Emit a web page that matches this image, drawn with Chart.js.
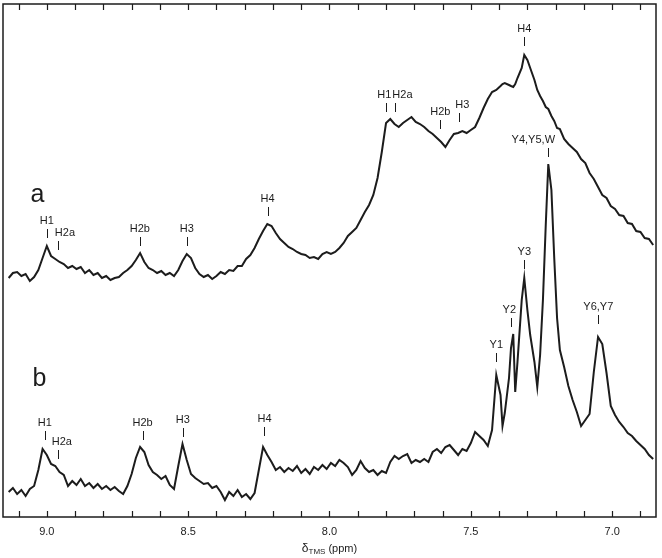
<!DOCTYPE html>
<html>
<head>
<meta charset="utf-8">
<script src="https://cdn.jsdelivr.net/npm/chart.js@4.4.1/dist/chart.umd.min.js"></script>
<style>
html, body { margin: 0; padding: 0; background: #fff; }
#wrap { width: 662px; height: 558px; position: relative; }
</style>
</head>
<body>
<div id="wrap"><canvas id="nmrChart"></canvas></div>
<script>
// chemical shift (ppm), shared by both traces
let ppm = [
9.135, 9.120, 9.105, 9.090, 9.075, 9.060, 9.045, 9.030, 9.015, 9.000,
8.985, 8.970, 8.955, 8.940, 8.925, 8.910, 8.895, 8.880, 8.865, 8.850,
8.835, 8.820, 8.805, 8.790, 8.775, 8.760, 8.745, 8.730, 8.715, 8.700,
8.685, 8.670, 8.655, 8.640, 8.625, 8.610, 8.595, 8.580, 8.565, 8.550,
8.535, 8.520, 8.505, 8.490, 8.475, 8.460, 8.445, 8.430, 8.415, 8.400,
8.385, 8.370, 8.355, 8.340, 8.325, 8.310, 8.295, 8.280, 8.265, 8.250,
8.235, 8.220, 8.205, 8.190, 8.175, 8.160, 8.145, 8.130, 8.115, 8.100,
8.085, 8.070, 8.055, 8.040, 8.025, 8.010, 7.995, 7.980, 7.965, 7.950,
7.935, 7.920, 7.905, 7.890, 7.875, 7.860, 7.845, 7.830, 7.815, 7.800,
7.785, 7.770, 7.755, 7.740, 7.725, 7.710, 7.695, 7.680, 7.665, 7.650,
7.635, 7.620, 7.605, 7.590, 7.575, 7.560, 7.545, 7.530, 7.515, 7.500,
7.485, 7.470, 7.455, 7.440, 7.425, 7.410, 7.395, 7.388, 7.380, 7.365,
7.358, 7.350, 7.343, 7.335, 7.320, 7.311, 7.300, 7.290, 7.275, 7.265,
7.255, 7.245, 7.235, 7.226, 7.215, 7.205, 7.195, 7.185, 7.170, 7.155,
7.140, 7.125, 7.110, 7.095, 7.080, 7.065, 7.050, 7.035, 7.020, 7.005,
6.990, 6.975, 6.960, 6.945, 6.930, 6.915, 6.900, 6.885, 6.870, 6.855
];

// trace a (upper spectrum), arbitrary intensity
let traceA = [
239, 244, 245, 241, 243, 236, 240, 247, 259, 271,
261, 258, 255, 253, 249, 251, 248, 250, 244, 247,
242, 244, 239, 241, 237, 239, 240, 244, 247, 251,
257, 264, 255, 249, 247, 244, 246, 242, 244, 241,
247, 256, 263, 259, 249, 243, 240, 242, 238, 241,
245, 243, 247, 246, 251, 251, 258, 262, 269, 278,
286, 293, 291, 284, 278, 274, 270, 268, 265, 263,
262, 259, 260, 258, 263, 265, 263, 265, 269, 274,
281, 285, 289, 297, 305, 312, 322, 339, 365, 394,
398, 393, 390, 394, 397, 400, 395, 393, 390, 386,
383, 379, 375, 370, 377, 383, 384, 386, 384, 387,
390, 399, 409, 418, 425, 427, 431, 433, 434, 432,
431, 430, 433, 439, 449, 462, 457, 449, 437, 427,
421, 416, 410, 408, 401, 396, 389, 388, 378, 373,
369, 365, 358, 354, 344, 338, 330, 322, 319, 311,
308, 302, 301, 294, 293, 286, 285, 279, 278, 272
];

// trace b (lower spectrum), arbitrary intensity
let traceB = [
25, 29, 23, 27, 21, 28, 31, 47, 68, 62,
53, 51, 45, 42, 31, 36, 32, 38, 31, 34,
29, 33, 28, 31, 27, 30, 26, 23, 31, 43,
59, 70, 65, 52, 45, 42, 38, 41, 32, 28,
51, 73, 57, 43, 39, 36, 33, 34, 29, 31,
25, 17, 25, 21, 27, 20, 23, 18, 24, 47,
70, 62, 55, 47, 50, 45, 49, 46, 51, 44,
48, 43, 50, 47, 52, 48, 54, 51, 57, 54,
50, 42, 47, 56, 49, 45, 47, 42, 46, 44,
55, 61, 58, 61, 63, 54, 57, 55, 58, 55,
65, 68, 64, 70, 72, 67, 62, 68, 66, 74,
85, 81, 77, 71, 87, 142, 122, 91, 104, 139,
169, 183, 125, 155, 217, 239, 207, 182, 155, 130,
162, 217, 292, 353, 327, 259, 199, 167, 150, 131,
117, 105, 91, 97, 103, 145, 180, 173, 144, 111,
102, 95, 90, 84, 81, 76, 72, 68, 62, 58
];

let tickLabels = ['9.0', '8.5', '8.0', '7.5', '7.0'];

// peak assignments: tick at ppm, text centred at text (if given), tick top at intensity
let peaksA = [
{ name: 'H1', ppm: 9.000, top: 288 },
{ name: 'H2a', ppm: 8.961, text: 8.936, top: 276 },
{ name: 'H2b', ppm: 8.671, top: 280 },
{ name: 'H3', ppm: 8.505, top: 280 },
{ name: 'H4', ppm: 8.219, top: 310 },
{ name: 'H1', ppm: 7.799, text: 7.806, top: 414 },
{ name: 'H2a', ppm: 7.770, text: 7.742, top: 414 },
{ name: 'H2b', ppm: 7.608, top: 397 },
{ name: 'H3', ppm: 7.541, text: 7.530, top: 404 },
{ name: 'H4', ppm: 7.311, top: 480 }
];

let peaksB = [
{ name: 'H1', ppm: 9.007, top: 86 },
{ name: 'H2a', ppm: 8.961, text: 8.947, top: 67 },
{ name: 'H2b', ppm: 8.661, top: 86 },
{ name: 'H3', ppm: 8.519, top: 89 },
{ name: 'H4', ppm: 8.230, top: 90 },
{ name: 'Y1', ppm: 7.410, top: 164 },
{ name: 'Y2', ppm: 7.357, text: 7.364, top: 199 },
{ name: 'Y3', ppm: 7.311, top: 257 },
{ name: 'Y4,Y5,W', ppm: 7.226, text: 7.279, top: 369 },
{ name: 'Y6,Y7', ppm: 7.049, top: 202 }
];

let traceNames = [
{ name: 'a', ppm: 9.033, at: 322 },
{ name: 'b', ppm: 9.026, at: 138 }
];

const INK = '#1c1c1c';
const FONT = '"Liberation Sans", Arial, sans-serif';

const spectrumDecor = {
  id: 'spectrumDecor',
  afterDatasetsDraw(chart) {
    const { ctx, chartArea: area, scales: { x, y } } = chart;
    ctx.save();
    ctx.strokeStyle = INK;
    ctx.fillStyle = INK;

    // frame with inward ticks
    ctx.lineWidth = 1.5;
    ctx.strokeRect(area.left, area.top, area.right - area.left, area.bottom - area.top);
    ctx.lineWidth = 1.2;
    ctx.beginPath();
    x.ticks.forEach(t => {
      const px = Math.round(x.getPixelForValue(t.value)) + 0.5;
      ctx.moveTo(px, area.bottom);
      ctx.lineTo(px, area.bottom - 6);
      ctx.moveTo(px, area.top);
      ctx.lineTo(px, area.top + 6);
    });
    ctx.stroke();

    // peak labels
    ctx.font = '11px ' + FONT;
    ctx.textAlign = 'center';
    ctx.textBaseline = 'middle';
    ctx.lineWidth = 1;
    peaksA.concat(peaksB).forEach(p => {
      const px = Math.round(x.getPixelForValue(p.ppm)) + 0.5;
      const top = y.getPixelForValue(p.top);
      ctx.beginPath();
      ctx.moveTo(px, top);
      ctx.lineTo(px, top + 9);
      ctx.stroke();
      ctx.fillText(p.name, x.getPixelForValue(p.text || p.ppm), top - 8);
    });

    // trace names
    ctx.font = '25px ' + FONT;
    traceNames.forEach(t => {
      ctx.fillText(t.name, x.getPixelForValue(t.ppm), y.getPixelForValue(t.at));
    });

    // axis title: delta with TMS subscript
    const cx = (area.left + area.right) / 2;
    const ty = 549;
    const parts = [
      { s: 'δ', f: '12px ' + FONT, dy: 0 },
      { s: 'TMS', f: '8px ' + FONT, dy: 3 },
      { s: ' (ppm)', f: '11px ' + FONT, dy: 0 }
    ];
    let w = 0;
    parts.forEach(p => { ctx.font = p.f; w += ctx.measureText(p.s).width; });
    let px = cx - w / 2;
    ctx.textAlign = 'left';
    parts.forEach(p => {
      ctx.font = p.f;
      ctx.fillText(p.s, px, ty + p.dy);
      px += ctx.measureText(p.s).width;
    });
    ctx.restore();
  }
};

let ctx = document.getElementById('nmrChart').getContext('2d');

let nmrChart = new Chart(ctx, {
  type: 'line',
  data: {
    datasets: [{
      label: 'a',
      data: ppm.map((p, i) => ({ x: p, y: traceA[i] })),
      borderColor: INK,
      borderWidth: 2,
      pointRadius: 0,
      tension: 0,
      fill: false
    }, {
      label: 'b',
      data: ppm.map((p, i) => ({ x: p, y: traceB[i] })),
      borderColor: INK,
      borderWidth: 2,
      pointRadius: 0,
      tension: 0,
      fill: false
    }]
  },
  options: {
    responsive: true,
    maintainAspectRatio: false,
    animation: false,
    layout: { padding: { left: 3, right: 6, top: 4, bottom: 0 } },
    plugins: {
      legend: { display: false },
      tooltip: { enabled: false }
    },
    scales: {
      x: {
        type: 'linear',
        reverse: true,
        min: 6.845,
        max: 9.155,
        grid: { display: false, drawTicks: false },
        border: { display: false },
        ticks: {
          stepSize: 0.1,
          includeBounds: false,
          autoSkip: false,
          maxRotation: 0,
          padding: 8,
          color: INK,
          font: { family: FONT, size: 11 },
          callback: function (value) {
            const s = Number(value).toFixed(1);
            return tickLabels.includes(s) && Math.abs(value * 10 - Math.round(value * 10)) < 1e-6 ? s : '';
          }
        },
        afterFit: function (scale) { scale.height = 41; }
      },
      y: {
        display: false,
        min: 0,
        max: 513
      }
    }
  },
  plugins: [spectrumDecor]
});
</script>
</body>
</html>
